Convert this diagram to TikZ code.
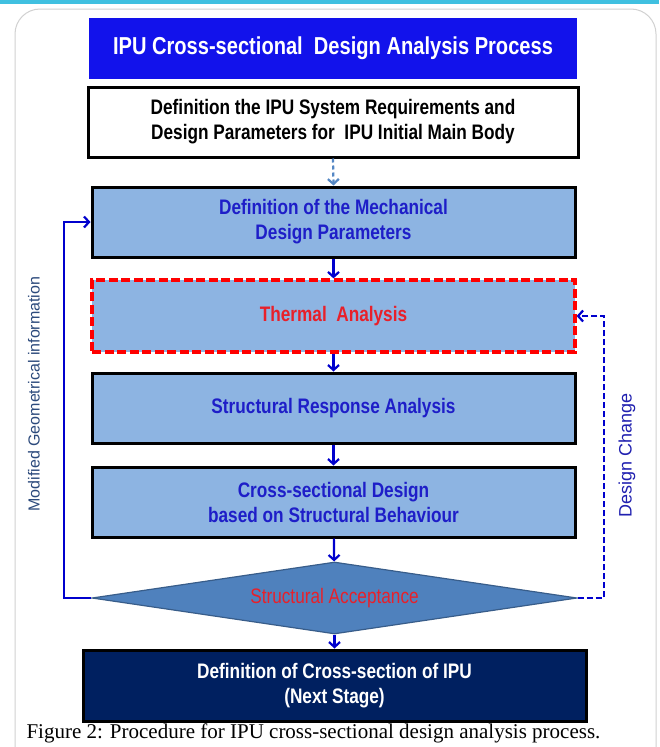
\documentclass[tikz,border=0pt]{standalone}
\usepackage{fontspec}
\setmainfont{Liberation Sans}
\newfontfamily\narrowf[FakeStretch=0.82]{Liberation Sans}
\newfontfamily\capf{Liberation Serif}
\usetikzlibrary{shapes.geometric,arrows.meta}
\definecolor{titleblue}{RGB}{18,18,235}
\definecolor{boxblue}{RGB}{141,180,226}
\definecolor{diafill}{RGB}{79,129,189}
\definecolor{diaedge}{RGB}{56,93,138}
\definecolor{navy}{RGB}{0,32,96}
\definecolor{txtblue}{RGB}{30,30,200}
\definecolor{arrblue}{RGB}{0,0,205}
\definecolor{steel}{RGB}{84,135,196}
\definecolor{lblsteel}{RGB}{44,74,124}
\definecolor{lblblue}{RGB}{32,32,176}
\definecolor{redtxt}{RGB}{232,32,42}
\definecolor{cyanstrip}{RGB}{64,192,224}
\begin{document}
\begin{tikzpicture}[x=1pt,y=-1pt,
  boxtxt/.style={font=\narrowf\bfseries\fontsize{21}{25}\selectfont, align=center},
  stagebox/.style={boxtxt, draw=black, line width=3pt, fill=boxblue, text=txtblue,
     minimum width=483pt, minimum height=70pt, inner sep=0pt},
  flow/.style={draw=arrblue, line width=2.2pt, -{Straight Barb[length=5pt,width=11pt]}},
  lbl/.style={rotate=90, inner sep=0pt}
]
\useasboundingbox (0,0) rectangle (659,747);
\clip (0,0) rectangle (659,747);
\fill[white] (0,0) rectangle (659,747);
\fill[cyanstrip] (0,0) rectangle (659,4);
\draw[black!18, line width=1pt, rounded corners=25pt] (15,9) rectangle (656,780);

\node[boxtxt, fill=titleblue, text=white, minimum width=488pt, minimum height=61pt, inner sep=0pt,
  font=\narrowf\bfseries\fontsize{24.5}{28}\selectfont] (title) at (333,48.5) {IPU Cross-sectional\ \ Design Analysis Process};
\node[boxtxt, draw=black, line width=3pt, fill=white, text=black, minimum width=490pt, minimum height=70pt, inner sep=0pt] (req) at (333,122)
  {Definition the IPU System Requirements and\\Design Parameters for\ \ IPU Initial Main Body};
\node[stagebox] (mech) at (333.5,222) {Definition of the Mechanical\\Design Parameters};
\node[stagebox, draw=red, line width=3.2pt, dash pattern=on 9pt off 3.5pt, text=redtxt, minimum height=72pt] (therm) at (333.5,316) {Thermal\ \ Analysis};
\node[stagebox] (resp) at (333.5,408) {Structural Response Analysis};
\node[stagebox] (cross) at (333.5,502) {Cross-sectional Design\\based on Structural Behaviour};
\node[shape=diamond, aspect=6.74, fill=diafill, draw=diaedge, line width=1.2pt, inner sep=0pt,
  minimum width=485pt, minimum height=72pt, text=redtxt, font=\narrowf\fontsize{21}{25}\selectfont] (dia) at (334.5,598) {Structural Acceptance};
\node[boxtxt, draw=black, line width=3pt, fill=navy, text=white, minimum width=503pt, minimum height=71pt, inner sep=0pt] (final) at (334.5,685.5)
  {Definition of Cross-section of IPU\\(Next Stage)};

\draw[flow, draw=steel, dash pattern=on 4pt off 3pt] (req.south) -- (mech.north);
\draw[flow] (mech) -- (therm);
\draw[flow] (therm) -- (resp);
\draw[flow] (resp) -- (cross);
\draw[flow] (cross) -- (dia);
\draw[flow] (dia) -- (final);

\coordinate (lft) at (64,598);
\coordinate (rgt) at (604,598);
\draw[flow] (dia.west) -- (lft) |- (mech.west);
\draw[flow, dash pattern=on 6pt off 3pt] (dia.east) -- (rgt) |- (therm.east);

\node[lbl, text=lblsteel, font=\fontsize{16}{19}\selectfont] (ml) at (34,394) {Modified Geometrical information};
\node[lbl, text=lblblue, font=\fontsize{18}{21}\selectfont] (dc) at (627,455) {Design Change};

\node[font=\capf\fontsize{21}{25}\selectfont, inner sep=0pt] (cap) at (313.5,733) {Figure 2: Procedure for IPU cross-sectional design analysis process.};
\end{tikzpicture}
\end{document}
